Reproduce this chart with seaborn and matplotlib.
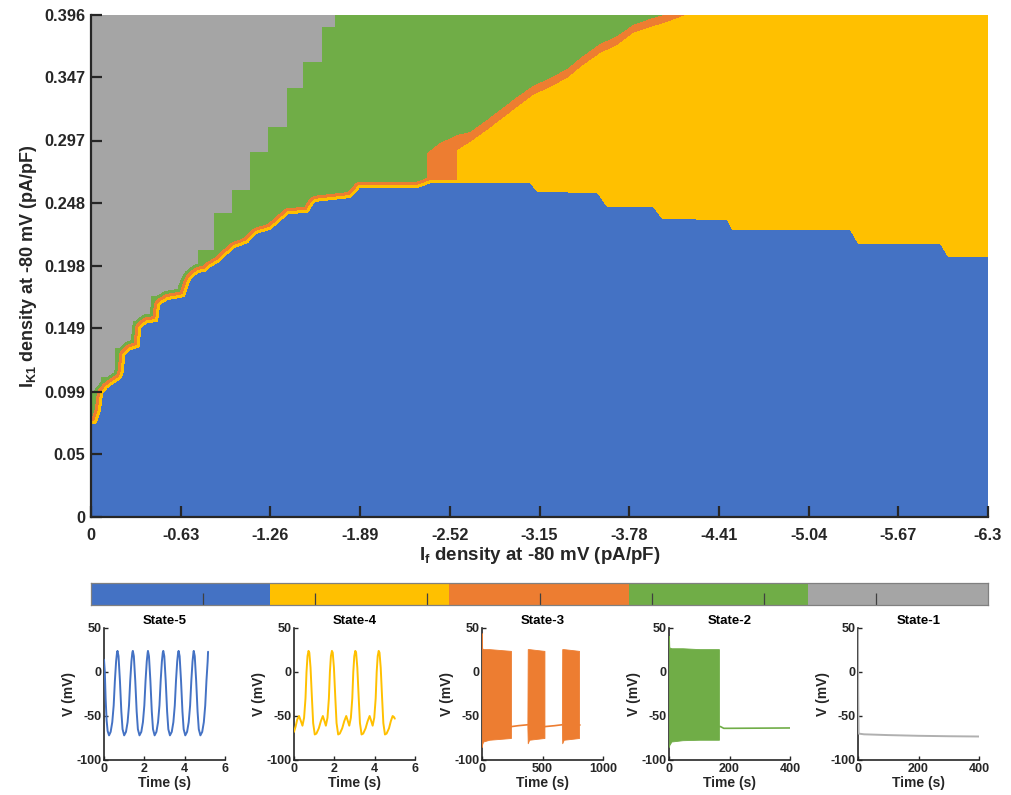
import numpy as np
import pandas as pd
import matplotlib
matplotlib.use("Agg")
import matplotlib.pyplot as plt
from matplotlib.colors import ListedColormap
import seaborn as sns

# colours for State-1 ... State-5
state_names = ["State-1", "State-2", "State-3", "State-4", "State-5"]
state_colors = ["#A5A5A5", "#70AD47", "#ED7D31", "#FFC000", "#4472C4"]

x_ticks = [0, -0.63, -1.26, -1.89, -2.52, -3.15, -3.78, -4.41, -5.04, -5.67, -6.3]
x_ticklabels = ["0", "-0.63", "-1.26", "-1.89", "-2.52", "-3.15", "-3.78",
                "-4.41", "-5.04", "-5.67", "-6.3"]
y_ticks = [0, 0.05, 0.099, 0.149, 0.198, 0.248, 0.297, 0.347, 0.396]
y_ticklabels = ["0", "0.05", "0.099", "0.149", "0.198", "0.248", "0.297", "0.347", "0.396"]

# top edge of the State-5 (blue) region, vertices along If
blue_if = [0, -0.042, -0.070, -0.084, -0.119, -0.169, -0.211, -0.232, -0.239, -0.281,
           -0.344, -0.351, -0.400, -0.471, -0.485, -0.541, -0.660, -0.681, -0.702, -0.752,
           -0.801, -0.843, -0.892, -0.962, -1.011, -1.103, -1.159, -1.257, -1.327, -1.384,
           -1.524, -1.573, -1.819, -1.889, -2.290, -2.395, -3.083, -3.132, -3.554, -3.624,
           -3.947, -4.010, -4.467, -4.502, -5.331, -5.387, -5.963, -6.019, -6.3]
blue_ik1 = [0.0726, 0.0741, 0.0844, 0.0970, 0.1018, 0.1057, 0.1089, 0.1144, 0.1278, 0.1317,
            0.1341, 0.1491, 0.1530, 0.1538, 0.1672, 0.1712, 0.1735, 0.1814, 0.1870, 0.1925,
            0.1933, 0.1972, 0.2004, 0.2075, 0.2122, 0.2161, 0.2232, 0.2264, 0.2327, 0.2390,
            0.2398, 0.2485, 0.2516, 0.2595, 0.2595, 0.2635, 0.2635, 0.2564, 0.2556, 0.2445,
            0.2445, 0.2351, 0.2343, 0.2264, 0.2264, 0.2153, 0.2153, 0.2051, 0.2051]

# bottom of the State-1 (gray) region, stair steps along If
gray_if = [0, -0.070, -0.169, -0.295, -0.421, -0.611, -0.660, -0.752, -0.864, -0.990,
           -1.117, -1.243, -1.377, -1.489, -1.622, -1.714]
gray_ik1 = [0.0986, 0.1104, 0.1333, 0.1546, 0.1743, 0.1830, 0.1940, 0.2106, 0.2398, 0.2579,
            0.2879, 0.3076, 0.3384, 0.3589, 0.3865, 0.50]

# diagonal border: top of State-4 (yellow) and top of State-3 (orange)
yellow_if = [-2.571, -2.662, -2.781, -2.873, -2.992, -3.104, -3.224, -3.343, -3.456,
             -3.575, -3.694, -3.807, -3.926, -4.046, -4.207]
yellow_ik1 = [0.2895, 0.2958, 0.3053, 0.3132, 0.3234, 0.3329, 0.3392, 0.3463, 0.3566,
              0.3660, 0.3723, 0.3818, 0.3865, 0.3905, 0.3975]
orange_if = [-2.360, -2.451, -2.571, -2.662, -2.781, -2.873, -2.992, -3.104, -3.224,
             -3.343, -3.456, -3.575, -3.694, -3.807, -3.926, -4.046, -4.207]
orange_ik1 = [0.2871, 0.2950, 0.3013, 0.3037, 0.3132, 0.3211, 0.3313, 0.3400, 0.3463,
              0.3534, 0.3637, 0.3731, 0.3794, 0.3881, 0.3929, 0.3968, 0.3975]

# example voltage traces
s5_t = [0, 0.04, 0.08, 0.13, 0.18, 0.25, 0.33, 0.41, 0.48, 0.54, 0.60, 0.645,
        0.67, 0.72, 0.79, 0.86, 0.92, 1.00, 1.09, 1.17, 1.24, 1.30, 1.36, 1.405,
        1.43, 1.48, 1.55, 1.62, 1.68, 1.76, 1.85, 1.93, 2.00, 2.06, 2.12, 2.165,
        2.18, 2.23, 2.30, 2.37, 2.43, 2.51, 2.60, 2.68, 2.75, 2.81, 2.87, 2.915,
        2.94, 2.99, 3.06, 3.13, 3.19, 3.27, 3.36, 3.44, 3.51, 3.57, 3.63, 3.675,
        3.70, 3.75, 3.82, 3.89, 3.95, 4.03, 4.12, 4.20, 4.27, 4.33, 4.39, 4.435,
        4.45, 4.50, 4.57, 4.64, 4.70, 4.78, 4.87, 4.95, 5.02, 5.08, 5.14, 5.16]
s5_v = [14, 0, -30, -55, -67, -72, -68, -57, -38, -10, 12, 22,
        24, 18, -10, -45, -65, -72, -68, -57, -38, -10, 12, 22,
        24, 18, -10, -45, -65, -72, -68, -57, -38, -10, 12, 22,
        24, 18, -10, -45, -65, -72, -68, -57, -38, -10, 12, 22,
        24, 18, -10, -45, -65, -72, -68, -57, -38, -10, 12, 22,
        24, 18, -10, -45, -65, -72, -68, -57, -38, -10, 12, 22,
        24, 18, -10, -45, -65, -72, -68, -57, -38, -10, 12, 23]

s4_t = [0.00, 0.08, 0.16, 0.25, 0.33, 0.42, 0.50, 0.57, 0.62, 0.67, 0.72, 0.76, 0.82,
        0.89, 0.95, 1.03, 1.11, 1.23, 1.33, 1.43, 1.50, 1.58, 1.66, 1.73, 1.78, 1.83,
        1.88, 1.92, 1.98, 2.05, 2.11, 2.19, 2.27, 2.39, 2.49, 2.59, 2.66, 2.74, 2.82,
        2.89, 2.94, 2.99, 3.04, 3.08, 3.14, 3.21, 3.27, 3.35, 3.43, 3.55, 3.65, 3.75,
        3.82, 3.90, 3.98, 4.05, 4.10, 4.15, 4.20, 4.24, 4.30, 4.37, 4.43, 4.51, 4.59,
        4.71, 4.80, 4.89, 4.95, 5.00]
s4_v = [-68, -62, -54, -50, -55, -61, -52, -30, 0, 18, 24, 22, 5,
        -30, -58, -71, -70, -64, -56, -50, -55, -61, -52, -30, 0, 18,
        24, 22, 5, -30, -58, -71, -70, -64, -56, -50, -55, -61, -52,
        -30, 0, 18, 24, 22, 5, -30, -58, -71, -70, -64, -56, -50,
        -55, -61, -52, -30, 0, 18, 24, 22, 5, -30, -58, -71, -70,
        -64, -56, -50, -51, -53]

# State-3: three bursts (upper / lower envelope) and the quiet stretches
s3_burst_t = [[0, 1, 10, 60, 150, 239], [375, 378, 390, 450, 516], [660, 663, 675, 740, 802]]
s3_burst_hi = [[44, 27, 26, 26, 25, 24], [-62, 26, 26, 25, 24], [-60, 26, 26, 25, 24]]
s3_burst_lo = [[-85, -82, -79, -77, -76, -75], [-62, -81, -77, -76, -75], [-60, -81, -77, -76, -75]]
s3_quiet_t = [[239, 245, 300, 375], [516, 522, 600, 660], [802, 812]]
s3_quiet_v = [[-62, -62, -61, -60], [-62, -62, -61, -60], [-60, -60]]

# State-2: one burst then rest
s2_burst_t = [0, 1, 8, 45, 100, 165]
s2_burst_hi = [41, 28, 27, 27, 26, 26]
s2_burst_lo = [-85, -83, -79, -77.5, -77, -77]
s2_quiet_t = [165, 170, 181, 200, 300, 400]
s2_quiet_v = [-62, -62, -64, -64, -63.8, -63.6]

# State-1: rest
s1_t = [0, 0.5, 2, 20, 100, 200, 300, 400]
s1_v = [48, -20, -70, -70.8, -71.7, -72.5, -73, -73.3]

sns.set_style("white")
plt.rcParams["font.family"] = ["Liberation Sans", "DejaVu Sans"]
plt.rcParams["font.weight"] = "bold"
plt.rcParams["axes.labelweight"] = "bold"
plt.rcParams["axes.titleweight"] = "bold"
plt.rcParams["axes.unicode_minus"] = False
plt.rcParams["xtick.bottom"] = True
plt.rcParams["ytick.left"] = True
plt.rcParams["mathtext.fontset"] = "custom"
plt.rcParams["mathtext.bf"] = "Liberation Sans:bold"
plt.rcParams["mathtext.rm"] = "Liberation Sans:bold"
plt.rcParams["mathtext.it"] = "Liberation Sans:bold"
plt.rcParams["mathtext.default"] = "bf"
dark = "#262626"

W, H = 1011, 795
fig = plt.figure(figsize=(W / 100, H / 100), dpi=100)
cmap = ListedColormap(state_colors)

# ---- state map ----
nx, ny = 897, 502
xc = -(np.arange(nx) + 0.5) * 6.3 / nx
yc = (np.arange(ny) + 0.5) * 0.396 / ny
Y = yc[:, None]


def step(knots, vals):
    idx = np.searchsorted(-np.asarray(knots), -xc, side="right") - 1
    return np.asarray(vals)[idx][None, :]


def edge(knots, vals, left, right):
    # border drawn straight between the read vertices
    return np.interp(-xc, -np.asarray(knots), vals, left=left, right=right)[None, :]


blue = Y < edge(blue_if, blue_ik1, 0.0726, 0.2051)
state = np.full((ny, nx), 2)
state[Y > step(gray_if, gray_ik1)] = 1
state[Y < edge(orange_if, orange_ik1, 0, 0.40)] = 3
state[Y < edge(yellow_if, yellow_ik1, 0, 0.40)] = 4

# thin bands that follow the blue border
r = 10
padded = np.pad(blue, r)
dist = np.full(blue.shape, np.inf)
for dy in range(-r, r + 1):
    for dx in range(-r, r + 1):
        d = np.hypot(dx, dy)
        if d > r:
            continue
        sh = padded[r + dy:r + dy + ny, r + dx:r + dx + nx]
        dist = np.where(sh & (d < dist), d, dist)
state[(dist <= 9.5) & (state == 1)] = 2
state[(dist <= 6.5) & np.isin(state, [1, 2])] = 3
state[dist <= 3.5] = 4
state[blue] = 5

ax = fig.add_axes([91 / W, 1 - 517 / H, 897 / W, 502 / H])
ax.imshow(state, cmap=cmap, vmin=0.5, vmax=5.5, origin="lower", aspect="auto",
          extent=[0, -6.3, 0, 0.396], interpolation="nearest")
ax.set_xlim(0, -6.3)
ax.set_ylim(0, 0.396)
ax.set_xticks(x_ticks)
ax.set_xticklabels(x_ticklabels)
ax.set_yticks(y_ticks)
ax.set_yticklabels(y_ticklabels)
ax.tick_params(direction="in", length=8, width=1.6, labelsize=11.8, colors=dark)
ax.tick_params(axis="x", pad=8)
ax.tick_params(axis="y", pad=4)
for s in ["top", "right"]:
    ax.spines[s].set_visible(False)
for s in ["left", "bottom"]:
    ax.spines[s].set_linewidth(1.6)
    ax.spines[s].set_color(dark)
ax.set_xlabel(r"$I_f$ density at -80 mV (pA/pF)", fontsize=13.5, color=dark, labelpad=1)
ax.set_ylabel(r"$I_{K1}$ density at -80 mV (pA/pF)", fontsize=13, color=dark, labelpad=4)

# ---- colour strip ----
axb = fig.add_axes([91 / W, 1 - 605 / H, 897 / W, 22 / H])
axb.imshow(np.array([[5, 4, 3, 2, 1]]), cmap=cmap, vmin=0.5, vmax=5.5, aspect="auto",
           extent=[0, 5, 0, 1], interpolation="nearest")
axb.set_xlim(0, 5)
axb.set_ylim(0, 1)
axb.set_xticks([5 * k / 8 for k in range(1, 8)])
axb.set_xticklabels([])
axb.set_yticks([])
axb.tick_params(axis="x", direction="in", length=9, width=0.9, color="#404040")
for s in axb.spines.values():
    s.set_visible(True)
    s.set_color("#808080")
    s.set_linewidth(0.9)

# ---- example traces ----
lefts = [104, 294, 482, 669, 858]
xlims = [6, 6, 1000, 400, 400]
xtks = [[0, 2, 4, 6], [0, 2, 4, 6], [0, 500, 1000], [0, 200, 400], [0, 200, 400]]
order = [4, 3, 2, 1, 0]
for i, left in enumerate(lefts):
    a = fig.add_axes([left / W, 1 - 760 / H, 121 / W, 132 / H])
    col = state_colors[order[i]]
    if i == 0:
        sns.lineplot(x=s5_t, y=s5_v, ax=a, color=col, lw=1.4, sort=False, estimator=None, zorder=3)
    elif i == 1:
        sns.lineplot(x=s4_t, y=s4_v, ax=a, color=col, lw=1.4, sort=False, estimator=None, zorder=3)
    elif i == 2:
        for bt, bh, bl in zip(s3_burst_t, s3_burst_hi, s3_burst_lo):
            a.fill_between(bt, bl, bh, color=col, lw=0.6, edgecolor=col, zorder=3)
        for qt, qv in zip(s3_quiet_t, s3_quiet_v):
            sns.lineplot(x=qt, y=qv, ax=a, color=col, lw=1.2, sort=False, estimator=None, zorder=3)
    elif i == 3:
        a.fill_between(s2_burst_t, s2_burst_lo, s2_burst_hi, color=col, lw=0.6, edgecolor=col,
                       zorder=3)
        sns.lineplot(x=s2_quiet_t, y=s2_quiet_v, ax=a, color=col, lw=1.2, sort=False,
                     estimator=None, zorder=3)
    else:
        sns.lineplot(x=s1_t, y=s1_v, ax=a, color="#B0B0B0", lw=1.4, sort=False, estimator=None,
                     zorder=3)
    a.set_xlim(0, xlims[i])
    a.set_ylim(-100, 50)
    a.set_xticks(xtks[i])
    a.set_yticks([-100, -50, 0, 50])
    a.tick_params(direction="in", length=3, width=1, labelsize=9, colors=dark, pad=2)
    for s in ["top", "right"]:
        a.spines[s].set_visible(False)
    for s in ["left", "bottom"]:
        a.spines[s].set_linewidth(1.2)
        a.spines[s].set_color(dark)
    a.set_title(state_names[order[i]], fontsize=9.5, color="black", pad=3)
    a.set_xlabel("Time (s)", fontsize=10, color=dark, labelpad=1)
    a.set_ylabel("V (mV)", fontsize=10, color=dark, labelpad=0)

fig.savefig("out.png", dpi=100)
